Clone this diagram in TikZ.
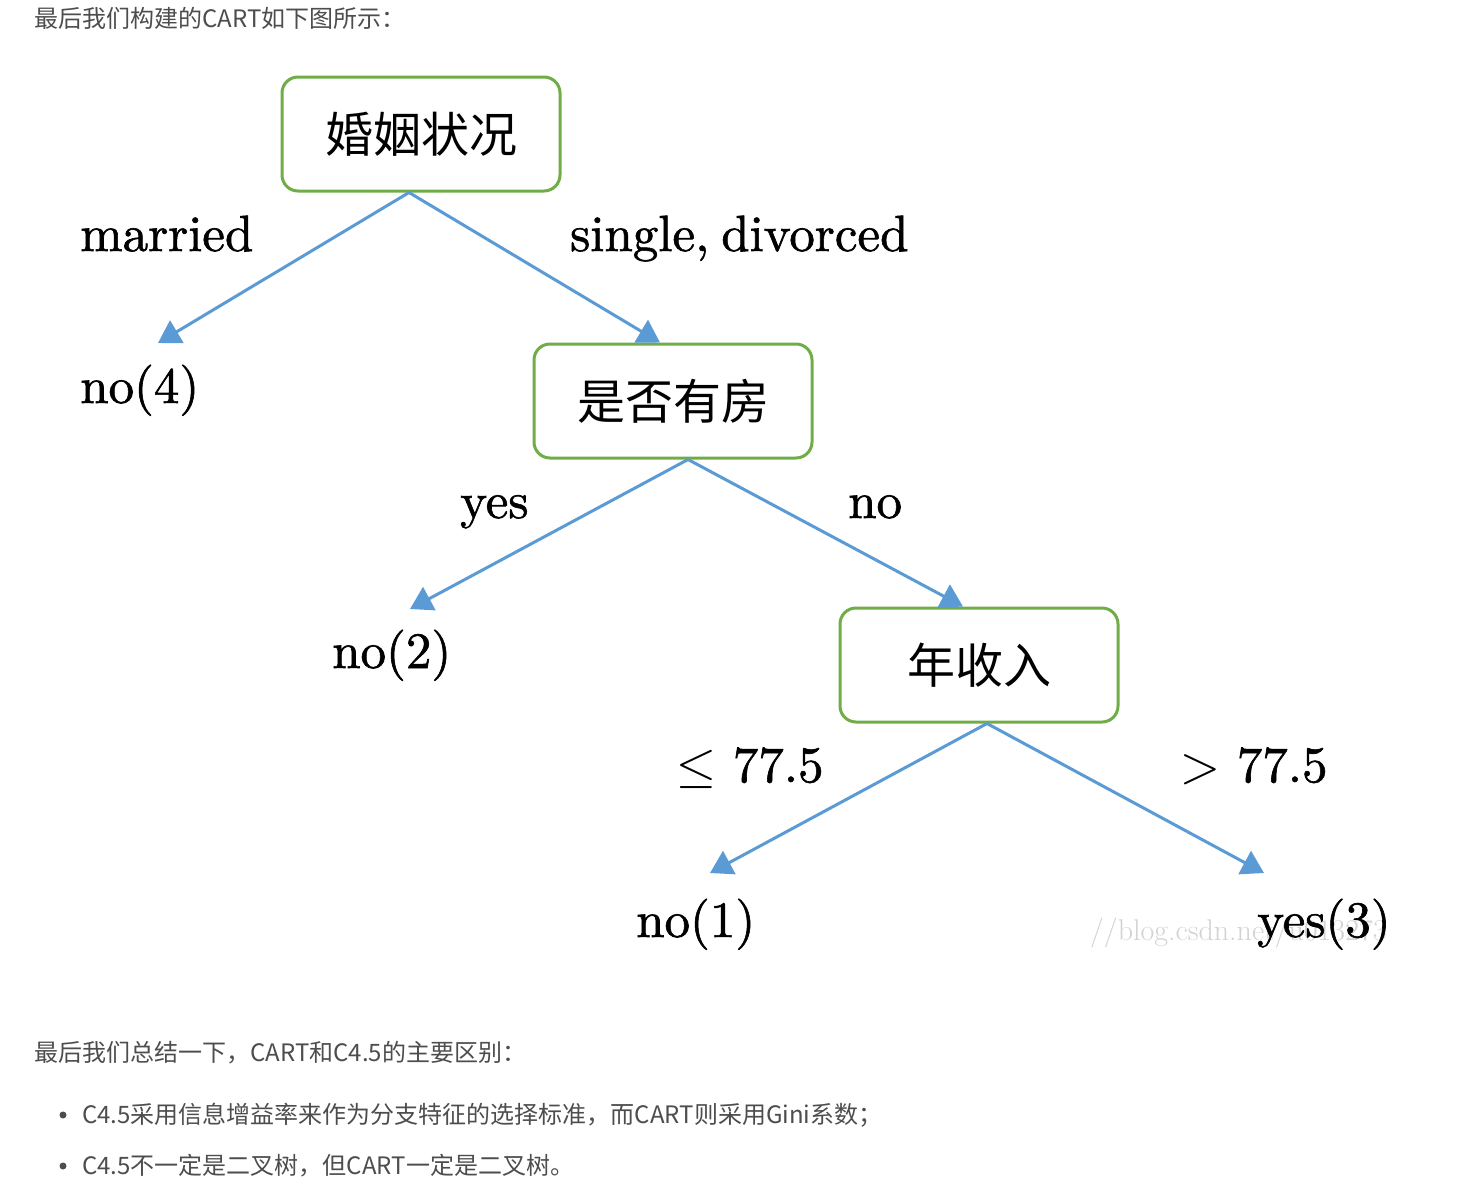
\documentclass[tikz,border=0pt]{standalone}
\usepackage{fontspec}
\usepackage{unicode-math}
\newfontfamily\cjk{Noto Sans CJK SC}
\newfontfamily\lblfont{lmroman10-regular.otf}[FakeBold=1.2]
\usetikzlibrary{arrows.meta}

\definecolor{boxgreen}{HTML}{70AD47}
\definecolor{arrblue}{HTML}{5B9BD5}
\definecolor{bodygray}{HTML}{4D4D4D}
\definecolor{markgray}{HTML}{D2D2D2}

\tikzset{
  treebox/.style={draw=boxgreen, line width=3pt, rounded corners=16pt,
    minimum width=278pt, minimum height=114pt, inner sep=0pt,
    font=\cjk\fontsize{48}{48}\selectfont},
  branch/.style={draw=arrblue, line width=3pt,
    -{Triangle[width=26pt,length=22pt]}},
  lbl/.style={anchor=base west, inner sep=0pt, font=\lblfont\fontsize{51}{51}\selectfont},
  bodytxt/.style={anchor=base west, inner sep=0pt, text=bodygray,
    font=\cjk\fontsize{24}{24}\selectfont}
}

\begin{document}
\begin{tikzpicture}[x=1pt,y=-1pt]
  \useasboundingbox[fill=white] (0,0) rectangle (1476,1197);

  % Texto de la pagina
  \node[bodytxt] (intro) at (34,27) {最后我们构建的CART如下图所示：};
  \node[bodytxt] (summary) at (34,1061) {最后我们总结一下，CART和C4.5的主要区别：};
  \node[bodytxt] (item1) at (82,1123) {C4.5采用信息增益率来作为分支特征的选择标准，而CART则采用Gini系数；};
  \node[bodytxt] (item2) at (82,1174) {C4.5不一定是二叉树，但CART一定是二叉树。};
  \fill[bodygray] (63,1115) circle (3.5pt);
  \fill[bodygray] (63,1166) circle (3.5pt);

  % Nodos del arbol
  \node[treebox] (marital) at (421,134) {婚姻状况};
  \node[treebox] (house) at (673,401) {是否有房};
  \node[treebox] (income) at (979,665) {年收入};

  % Marca de agua
  \node[anchor=base west, inner sep=0pt, text=markgray,
    font=\fontsize{30}{30}\selectfont] (mark) at (1090,940) {//blog.csdn.net/u013273};

  % Hojas
  \node[lbl] (leaf4) at (80,403) {no(4)};
  \node[lbl] (leaf2) at (332,668) {no(2)};
  \node[lbl] (leaf1) at (636,937) {no(1)};
  \node[lbl] (leaf3) at (1257,937) {yes(3)};

  % Puntas de las flechas
  \coordinate (tip4) at (158,343);
  \coordinate (tip2) at (410,609);
  \coordinate (tip1) at (710,873);
  \coordinate (tip3) at (1264,873);

  % Ramas
  \draw[branch] ([xshift=-12pt]marital.south) -- (tip4);
  \draw[branch] ([xshift=-12pt]marital.south) -- ([xshift=-13pt]house.north);
  \draw[branch] ([xshift=15pt]house.south) -- (tip2);
  \draw[branch] ([xshift=15pt]house.south) -- ([xshift=-16pt]income.north);
  \draw[branch] ([xshift=8pt]income.south) -- (tip1);
  \draw[branch] ([xshift=8pt]income.south) -- (tip3);

  % Etiquetas de las ramas
  \node[lbl] (married) at (80,251) {married};
  \node[lbl] (single) at (570,251) {single,\hspace{-5pt} divorced};
  \node[lbl] (hyes) at (460,518) {yes};
  \node[lbl] (hno) at (848,518) {no};
  \node[lbl] (low) at (676,782) {$\leq$ 77.5};
  \node[lbl] (high) at (1180,782) {$>$ 77.5};
\end{tikzpicture}
\end{document}
